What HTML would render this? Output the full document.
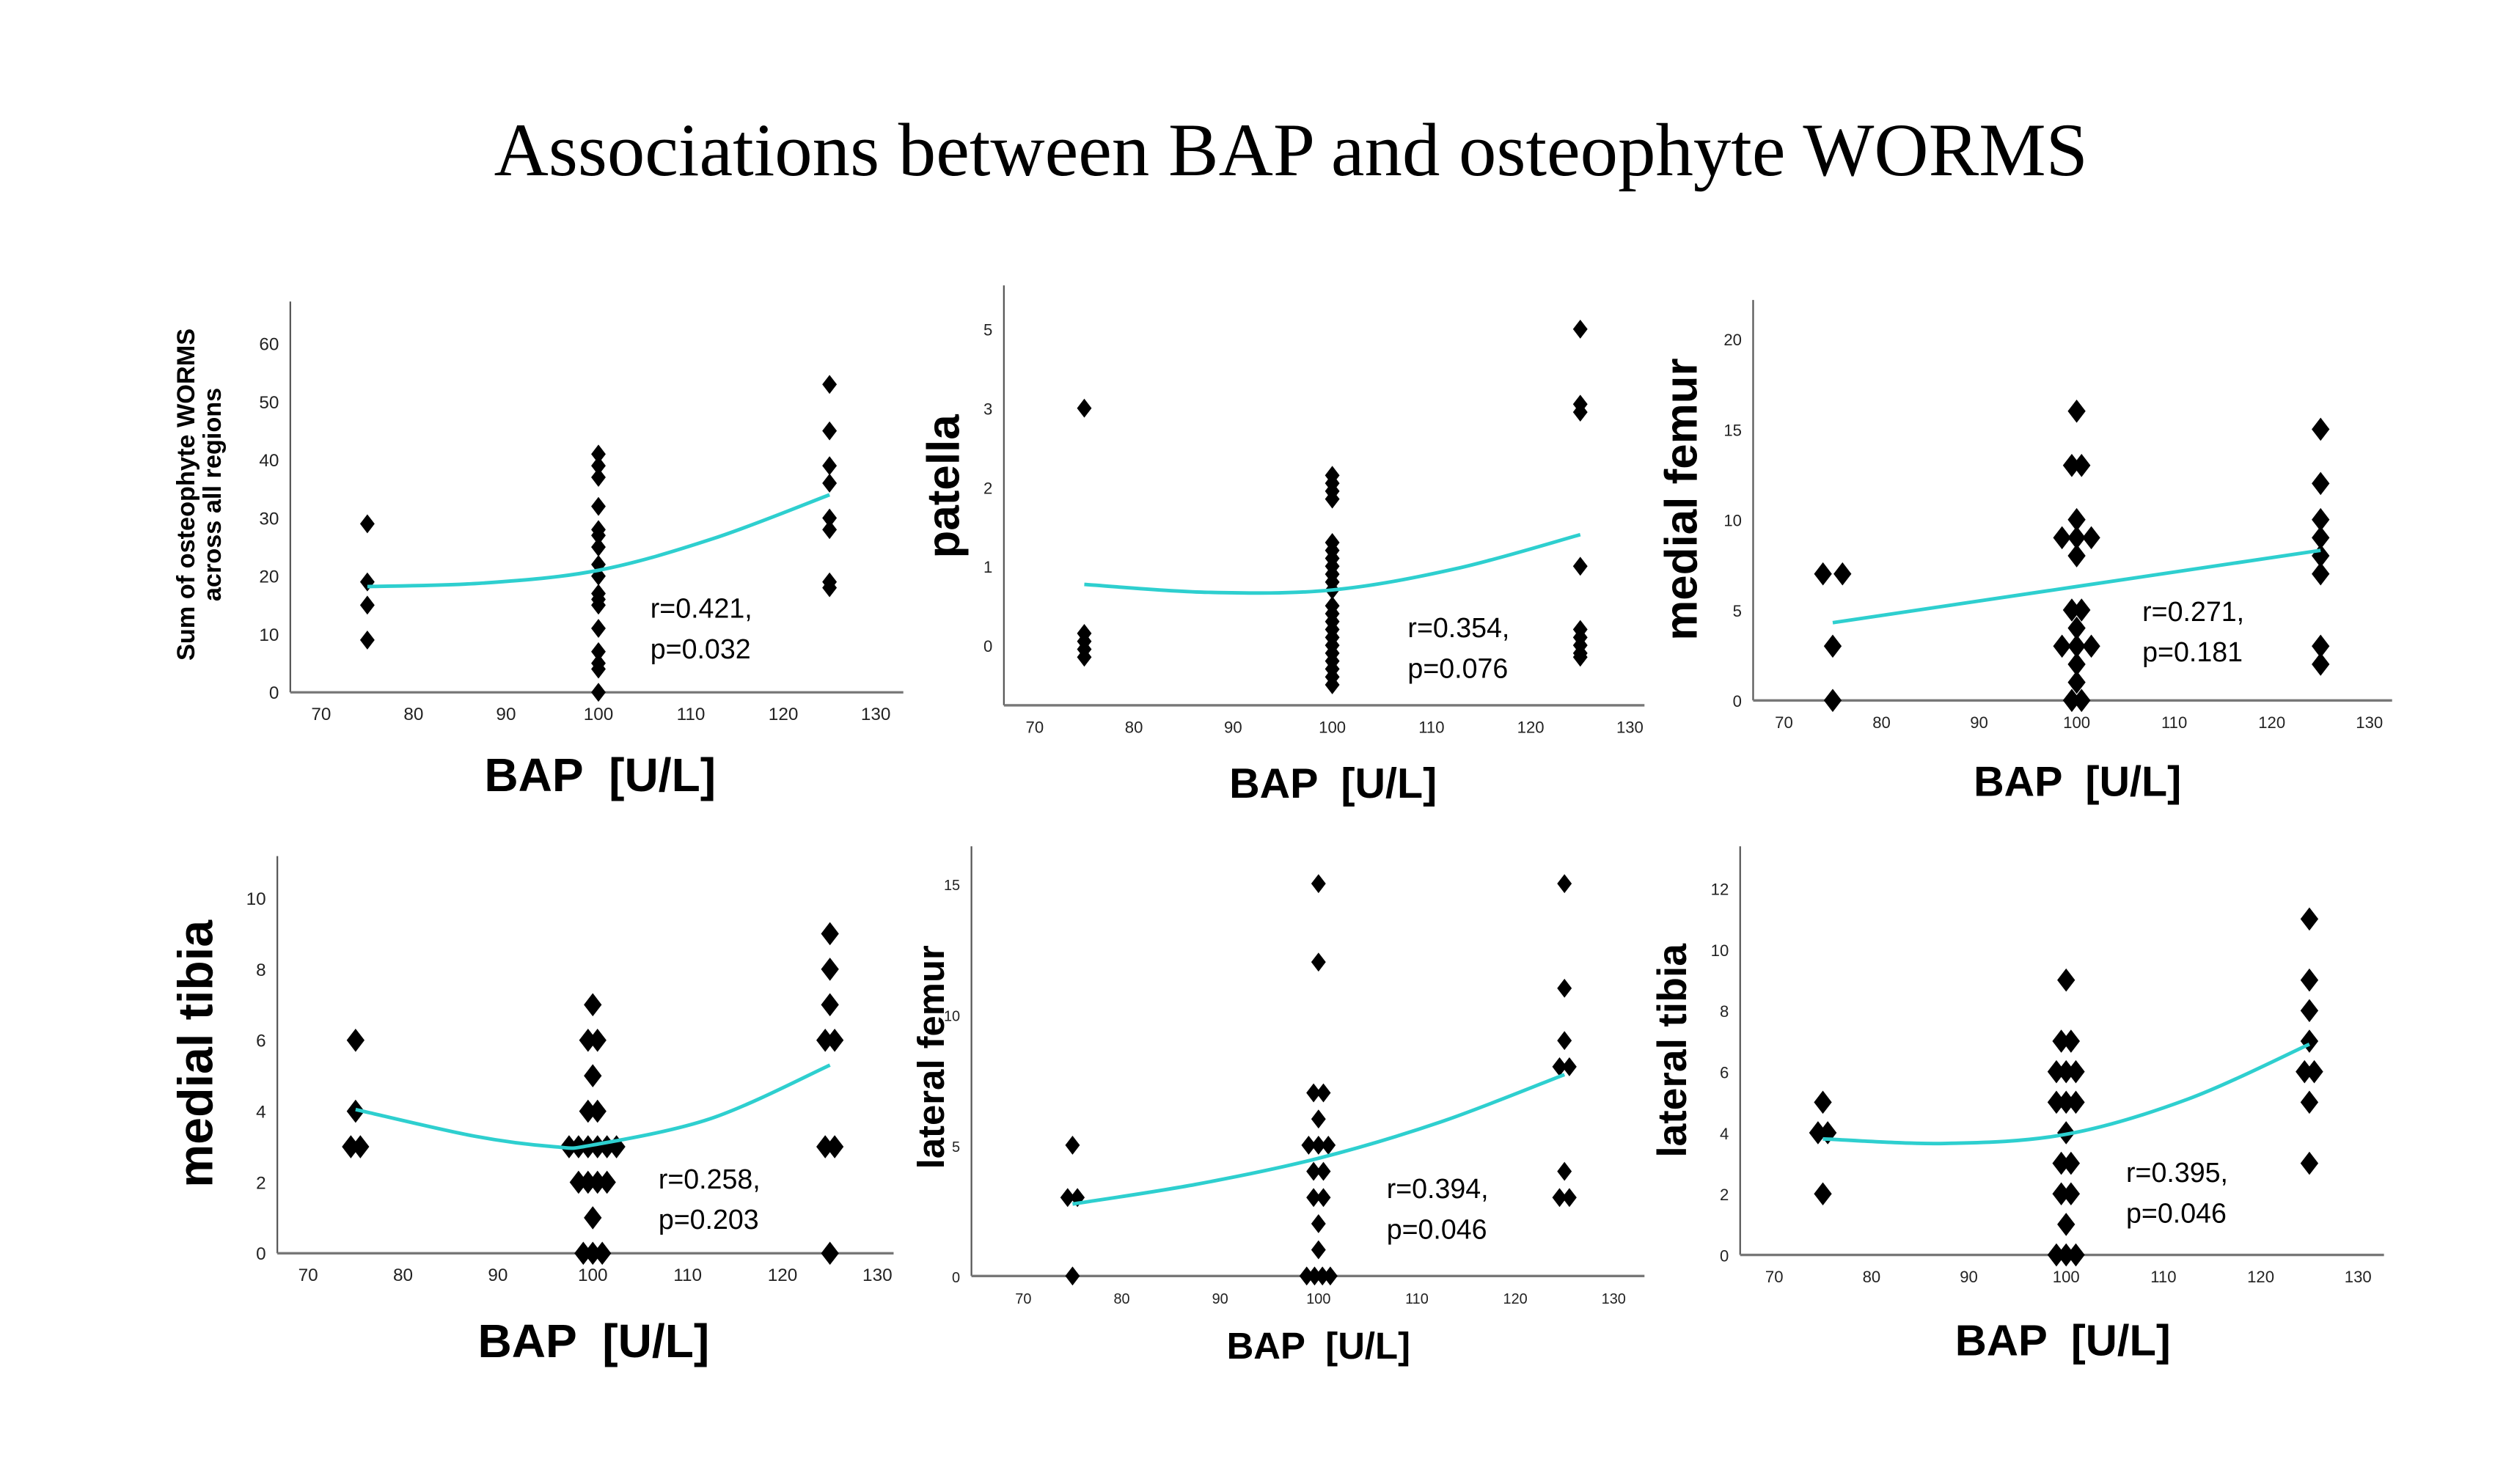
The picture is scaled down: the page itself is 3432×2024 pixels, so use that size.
<!DOCTYPE html>
<html><head><meta charset="utf-8"><style>
html,body{margin:0;padding:0;background:#fff}
svg{display:block}
text.xl{white-space:pre}
</style></head><body>
<svg id="fig" width="3432" height="2024" viewBox="0 0 1552 915.3" xmlns="http://www.w3.org/2000/svg">
<rect width="1552" height="915.3" fill="#fff"/>
<text x="796" y="108" text-anchor="middle" font-family="Liberation Serif, serif" font-size="46.5">Associations between BAP and osteophyte WORMS</text>
</svg>
<script>
// Panel 1: sum of osteophyte WORMS
const p1X=[75,75,75,75,100,100,100,100,100,100,100,100,100,100,100,100,100,100,100,100,100,125,125,125,125,125,125,125,125];
const p1Y=[29,19,15,9,41,39,37,32,28,27,25,22,20,17,16,15,11,7,5,4,0,53,45,39,36,30,28,19,18];
const p1FitX=[75,87.5,100,112.5,125];
const p1FitY=[18.2,18.8,21,26.5,34];
const p1Ticks=[0,10,20,30,40,50,60];
// Panel 2: patella (axis positions 0..4 labelled 0,1,2,3,5)
const p2X=[75,75,75,75,75,100,100,100,100,100,100,100,100,100,100,100,100,100,100,100,100,100,100,100,100,100,100,125,125,125,125,125,125,125,125,125];
const p2Y=[3,0.15,0.05,-0.05,-0.15,2.15,2.05,1.95,1.85,1.3,1.2,1.1,1.0,0.9,0.8,0.7,0.5,0.4,0.3,0.2,0.1,0,-0.1,-0.2,-0.3,-0.4,-0.5,4,3.05,2.95,1,0.2,0.1,0,-0.1,-0.15];
const p2FitX=[75,87.5,100,112.5,125];
const p2FitY=[0.77,0.67,0.7,0.97,1.4];
const p2Ticks=[0,1,2,3,4];
const p2TickLabels=["0","1","2","3","5"];
// Panel 3: medial femur
const p3X=[74,76,75,75,100,99.5,100.5,100,98.5,100,101.5,100,99.5,100.5,100,98.5,100,101.5,100,100,99.5,100.5,125,125,125,125,125,125,125,125];
const p3Y=[7,7,3,0,16,13,13,10,9,9,9,8,5,5,4,3,3,3,2,1,0,0,15,12,10,9,8,7,3,2];
const p3FitX=[75,125];
const p3FitY=[4.3,8.3];
const p3Ticks=[0,5,10,15,20];
// Panel 4: medial tibia
const p4X=[75,75,74.5,75.5,100,99.5,100.5,100,99.5,100.5,97.5,98.5,99.5,100.5,101.5,102.5,98.5,99.5,100.5,101.5,100,99,100,101,125,125,125,124.5,125.5,124.5,125.5,125];
const p4Y=[6,4,3,3,7,6,6,5,4,4,3,3,3,3,3,3,2,2,2,2,1,0,0,0,9,8,7,6,6,3,3,0];
const p4FitX=[75,87.5,96,100,112.5,125];
const p4FitY=[4.05,3.3,3.0,3.05,3.8,5.3];
const p4Ticks=[0,2,4,6,8,10];
// Panel 5: lateral femur
const p5X=[75,74.5,75.5,75,100,100,99.5,100.5,100,99,100,101,99.5,100.5,99.5,100.5,100,100,98.8,99.6,100.4,101.2,125,125,125,124.5,125.5,125,124.5,125.5];
const p5Y=[5,3,3,0,15,12,7,7,6,5,5,5,4,4,3,3,2,1,0,0,0,0,15,11,9,8,8,4,3,3];
const p5FitX=[75,87.5,100,112.5,125];
const p5FitY=[2.75,3.5,4.5,5.9,7.7];
const p5Ticks=[0,5,10,15];
// Panel 6: lateral tibia
const p6X=[75,74.5,75.5,75,100,99.5,100.5,99,100,101,99,100,101,100,99.5,100.5,99.5,100.5,100,99,100,101,125,125,125,125,124.5,125.5,125,125];
const p6Y=[5,4,4,2,9,7,7,6,6,6,5,5,5,4,3,3,2,2,1,0,0,0,11,9,8,7,6,6,5,3];
const p6FitX=[75,87.5,100,112.5,125];
const p6FitY=[3.8,3.65,3.95,5.1,6.9];
const p6Ticks=[0,2,4,6,8,10,12];
const xTicks=[70,80,90,100,110,120,130];

const NS="http://www.w3.org/2000/svg";
const svg=document.getElementById('fig');
function mk(tag,attrs,parent){const e=document.createElementNS(NS,tag);for(const k in attrs)e.setAttribute(k,attrs[k]);(parent||svg).appendChild(e);return e;}

const panels=[
 {id:'p1',x0:179,y0:427,top:186,right:557,xa:198,xb:540,ya:427,yb:212,yv:60,X:p1X,Y:p1Y,FX:p1FitX,FY:p1FitY,ticks:p1Ticks,labels:null,ms:4.5,tf:11,
  ylab:["Sum of osteophyte WORMS","across all regions"],ylx:123,yly:305,ylf:15.5,sx:401,sy:381,xlx:370,xly:488,xlf:29},
 {id:'p2',x0:619,y0:435,top:176,right:1014,xa:638,xb:1005,ya:398,yb:203,yv:4,X:p2X,Y:p2Y,FX:p2FitX,FY:p2FitY,ticks:p2Ticks,labels:p2TickLabels,ms:4.5,tf:10,
  ylab:["patella"],ylx:582,yly:300,ylf:28,sx:868,sy:393,xlx:822,xly:492,xlf:26},
 {id:'p3',x0:1081,y0:432,top:185,right:1475,xa:1100,xb:1461,ya:432,yb:209,yv:20,X:p3X,Y:p3Y,FX:p3FitX,FY:p3FitY,ticks:p3Ticks,labels:null,ms:5.5,tf:10,
  ylab:["medial femur"],ylx:1037,yly:308,ylf:28,sx:1321,sy:383,xlx:1281,xly:491,xlf:26},
 {id:'p4',x0:171,y0:773,top:528,right:551,xa:190,xb:541,ya:773,yb:554,yv:10,X:p4X,Y:p4Y,FX:p4FitX,FY:p4FitY,ticks:p4Ticks,labels:null,ms:5.5,tf:11,
  ylab:["medial tibia"],ylx:121,yly:650,ylf:30,sx:406,sy:733,xlx:366,xly:837,xlf:29},
 {id:'p5',x0:599,y0:787,top:522,right:1014,xa:631,xb:995,ya:787,yb:545,yv:15,X:p5X,Y:p5Y,FX:p5FitX,FY:p5FitY,ticks:p5Ticks,labels:null,ms:4.5,tf:9,
  ylab:["lateral femur"],ylx:574,yly:652,ylf:23,sx:855,sy:739,xlx:813,xly:838,xlf:23},
 {id:'p6',x0:1073,y0:774,top:522,right:1470,xa:1094,xb:1454,ya:774,yb:548,yv:12,X:p6X,Y:p6Y,FX:p6FitX,FY:p6FitY,ticks:p6Ticks,labels:null,ms:5.5,tf:10,
  ylab:["lateral tibia"],ylx:1031,yly:648,ylf:25,sx:1311,sy:729,xlx:1272,xly:836,xlf:27}
];
const stats=[["r=0.421,","p=0.032"],["r=0.354,","p=0.076"],["r=0.271,","p=0.181"],["r=0.258,","p=0.203"],["r=0.394,","p=0.046"],["r=0.395,","p=0.046"]];

panels.forEach((p,i)=>{
  const g=mk('g',{});
  
  
  const sx=v=>p.xa+(v-70)*(p.xb-p.xa)/60;
  const sy=v=>p.ya+(v)*(p.yb-p.ya)/p.yv;
  const ya=mk('line',{x1:p.x0,y1:p.top,x2:p.x0,y2:p.y0,stroke:'#555','stroke-width':1},g);
  
  
  const xa=mk('line',{x1:p.x0,y1:p.y0,x2:p.right,y2:p.y0,stroke:'#777','stroke-width':1.5},g);
  
  
  xTicks.forEach(t=>{
    const e=mk('text',{x:sx(t),y:p.y0+17,'text-anchor':'middle','font-family':'Liberation Sans, sans-serif','font-size':p.tf,fill:'#222'},g);
    
    
    e.textContent=t;
  });
  p.ticks.forEach((t,k)=>{
    const e=mk('text',{x:p.x0-7,y:sy(t)+4,'text-anchor':'end','font-family':'Liberation Sans, sans-serif','font-size':p.tf,fill:'#222'},g);
    
    
    e.textContent=p.labels?p.labels[k]:t;
  });
  const pts=p.FX.map((x,k)=>[sx(x),sy(p.FY[k])]);
  let d='M'+pts[0][0]+','+pts[0][1];
  for(let k=0;k<pts.length-1;k++){
    const p0=pts[k-1]||pts[k],p1=pts[k],p2=pts[k+1],p3=pts[k+2]||p2;
    const c1=[p1[0]+(p2[0]-p0[0])/6,p1[1]+(p2[1]-p0[1])/6];
    const c2=[p2[0]-(p3[0]-p1[0])/6,p2[1]-(p3[1]-p1[1])/6];
    d+=' C'+c1+' '+c2+' '+p2;
  }
  p.X.forEach((x,k)=>{
    const cx=sx(x),cy=sy(p.Y[k]),m=p.ms;
    const e=mk('polygon',{points:`${cx},${cy-m*1.3} ${cx+m},${cy} ${cx},${cy+m*1.3} ${cx-m},${cy}`,fill:'#000'},g);
    
    
  });
  const c=mk('path',{d:d,fill:'none',stroke:'#2ecfcf','stroke-width':2.2},g);
  
  
  stats[i].forEach((s,k)=>{
    const e=mk('text',{x:p.sx,y:p.sy+k*25,'font-family':'Liberation Sans, sans-serif','font-size':17,fill:'#000'},g);
    
    
    e.textContent=s;
  });
  const xl=mk('text',{x:p.xlx,y:p.xly,'text-anchor':'middle','font-family':'Liberation Sans, sans-serif','font-weight':'bold','font-size':p.xlf,fill:'#000','class':'xl'},g);
  
  
  xl.textContent='BAP  [U/L]';
  const n=p.ylab.length;
  p.ylab.forEach((s,k)=>{
    const off=(k-(n-1)/2)*p.ylf*1.05;
    const e=mk('text',{x:0,y:0,'text-anchor':'middle','dominant-baseline':'central','font-family':'Liberation Sans, sans-serif','font-weight':'bold','font-size':p.ylf,fill:'#000',
      transform:`translate(${p.ylx+off},${p.yly}) rotate(-90)`},g);
    
    
    e.textContent=s;
  });
});
</script>
</body></html>
